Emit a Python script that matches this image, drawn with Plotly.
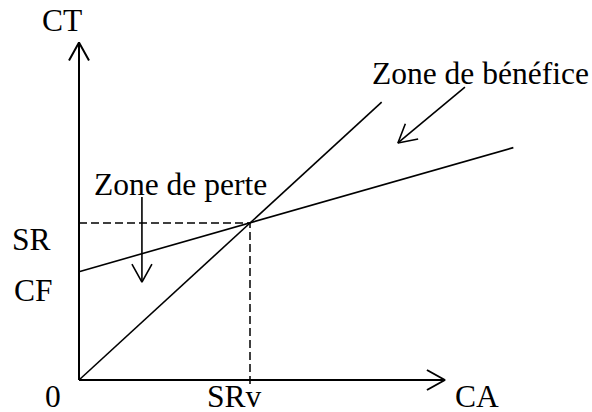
import numpy as np
import plotly.graph_objects as go

# break-even chart values (arbitrary units, SRv = SR = 100)
ca_diag_x = [0, 177]          # CA line (CT = CA)
ca_diag_y = [0, 177]
ct_x = [0, 254]               # total cost line CT = CF + CV
ct_y = [69, 148]
cf_value = 69
srv_value = 100
sr_value = 100
axis_x_len = 214
axis_y_len = 215

# pixel scale of one unit on each axis
SX, SY = 1.71, 1.57
FONT = dict(family="Liberation Serif, Times New Roman, serif", size=31.5, color="black")


def chevron(x0, y0, x1, y1, length=18, half=10):
    """Open arrow head at (x1, y1) pointing away from (x0, y0)."""
    dx, dy = (x1 - x0) * SX, (y1 - y0) * SY
    n = np.hypot(dx, dy)
    ux, uy = dx / n, dy / n
    px, py = -uy, ux
    a = (x1 + (-length * ux + half * px) / SX, y1 + (-length * uy + half * py) / SY)
    b = (x1 + (-length * ux - half * px) / SX, y1 + (-length * uy - half * py) / SY)
    return [a[0], x1, b[0]], [a[1], y1, b[1]]


def arrow(fig, x0, y0, x1, y1, width=2):
    hx, hy = chevron(x0, y0, x1, y1)
    fig.add_trace(go.Scatter(
        x=[x0, x1, None] + hx, y=[y0, y1, None] + hy,
        mode="lines", line=dict(color="black", width=width),
        hoverinfo="skip", showlegend=False
    ))


fig = go.Figure()

# axes
arrow(fig, 0, 0, axis_x_len, 0)
arrow(fig, 0, 0, 0, axis_y_len)

# dashed guides to the break-even point
fig.add_trace(go.Scatter(
    x=[0, srv_value, srv_value], y=[sr_value, sr_value, -4],
    mode="lines", line=dict(color="black", width=1.5, dash="8px,4px"),
    hoverinfo="skip", showlegend=False
))

# CA and CT lines
fig.add_trace(go.Scatter(x=ca_diag_x, y=ca_diag_y, mode="lines",
                         line=dict(color="black", width=1.6), showlegend=False))
fig.add_trace(go.Scatter(x=ct_x, y=ct_y, mode="lines",
                         line=dict(color="black", width=1.6), showlegend=False))

# zone arrows
arrow(fig, 36.8, 116.6, 36.8, 62.4, width=1.6)
arrow(fig, 225.7, 186.6, 186.5, 151, width=1.6)

labels = [
    ("CT", -9.9, 228.7, "center"),
    ("SR", -28, 89.8, "center"),
    ("CF", -26.9, 56.7, "center"),
    ("0", -15.2, -10.8, "center"),
    ("SRv", 91.2, -10.2, "center"),
    ("CA", 233, -10.2, "center"),
    ("Zone de perte", 7.6, 124.8, "left"),
    ("Zone de bénéfice", 170.2, 195.5, "left"),
]
for text, x, y, anchor in labels:
    fig.add_annotation(x=x, y=y, text=text, showarrow=False,
                       xanchor=anchor, yanchor="middle", font=FONT)

fig.update_layout(
    width=592, height=412,
    margin=dict(l=0, r=0, t=0, b=0),
    paper_bgcolor="white", plot_bgcolor="white",
    xaxis=dict(range=[-79 / SX, 513 / SX], visible=False, fixedrange=True),
    yaxis=dict(range=[-32 / SY, 380 / SY], visible=False, fixedrange=True),
    showlegend=False
)

fig.write_html("out.html", config={"displayModeBar": False},
               post_script="document.body.style.margin = '0';")
